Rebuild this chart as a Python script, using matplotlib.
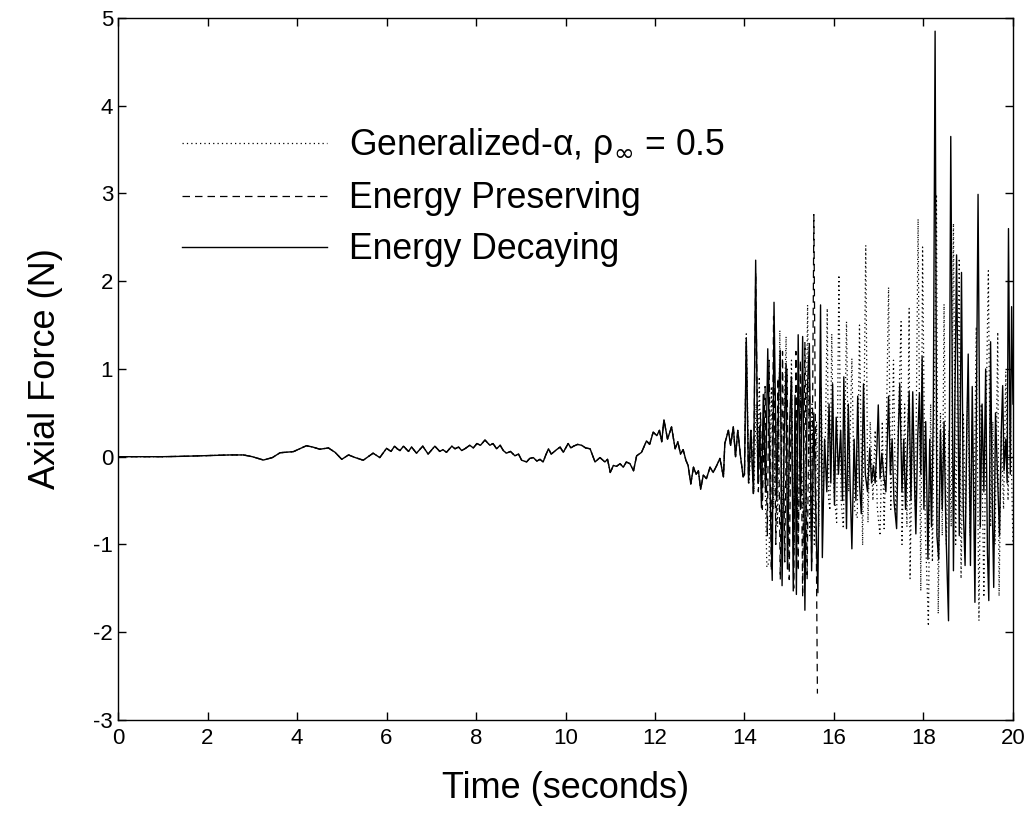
import matplotlib
matplotlib.use('Agg')
import matplotlib.pyplot as plt

plt.rcParams['font.family'] = ['Liberation Sans', 'DejaVu Sans']
plt.rcParams['mathtext.fontset'] = 'dejavusans'
plt.rcParams['axes.unicode_minus'] = False

# shared response before the schemes separate (seconds, N)
t_common = [0.0, 0.5, 1.0, 1.5, 2.0, 2.5, 2.8, 3.0, 3.25, 3.45, 3.62, 3.92, 4.1, 4.21,
            4.35, 4.51, 4.7, 4.85, 5.0, 5.15, 5.3, 5.48, 5.7, 5.85, 6.0, 6.1, 6.18,
            6.24, 6.30, 6.38, 6.49, 6.56, 6.67, 6.81, 6.93, 7.08, 7.19, 7.26, 7.34,
            7.46, 7.53, 7.61, 7.68, 7.75, 7.86, 7.94, 8.02, 8.10, 8.20, 8.31, 8.38,
            8.46, 8.54, 8.61, 8.68, 8.77, 8.87, 8.95, 9.02, 9.13, 9.20, 9.28, 9.36,
            9.43, 9.50, 9.56, 9.62, 9.68, 9.73, 9.80, 9.88, 9.95, 10.06, 10.12, 10.18,
            10.27, 10.36, 10.45, 10.55, 10.66, 10.77, 10.88, 10.94, 11.00, 11.07,
            11.14, 11.22, 11.29, 11.36, 11.44, 11.52, 11.59, 11.70, 11.81, 11.88,
            11.96, 12.04, 12.10, 12.15, 12.20, 12.28, 12.37, 12.45, 12.51, 12.57,
            12.63, 12.69, 12.74, 12.80, 12.86, 12.92, 12.97, 13.02, 13.08, 13.15,
            13.23, 13.30, 13.38, 13.45, 13.53, 13.56, 13.64, 13.69, 13.75, 13.80,
            13.85, 13.91, 13.97]
f_common = [0.0, 0.0, 0.0, 0.005, 0.012, 0.02, 0.02, 0.0, -0.038, -0.01, 0.045, 0.058, 0.10, 0.125,
            0.11, 0.085, 0.10, 0.05, -0.03, 0.02, -0.01, -0.04, 0.04, -0.01, 0.095, 0.06, 0.12,
            0.09, 0.07, 0.12, 0.06, 0.11, 0.04, 0.12, 0.03, 0.12, 0.06, 0.08, 0.05,
            0.12, 0.09, 0.11, 0.07, 0.09, 0.13, 0.10, 0.15, 0.13, 0.19, 0.13, 0.15,
            0.09, 0.13, 0.07, 0.04, 0.06, 0.01, 0.03, -0.04, -0.06, -0.02, -0.01, -0.05,
            -0.03, -0.06, 0.02, 0.09, 0.03, 0.05, 0.08, 0.11, 0.05, 0.15, 0.10, 0.12,
            0.14, 0.13, 0.10, 0.09, -0.06, -0.01, -0.06, -0.03, -0.18, -0.10,
            -0.11, -0.08, -0.12, -0.06, -0.08, -0.16, 0.01, 0.05, 0.18, 0.14,
            0.28, 0.24, 0.30, 0.17, 0.42, 0.20, 0.34, 0.09, 0.17, 0.03,
            0.08, -0.04, -0.10, -0.31, -0.12, -0.20, -0.16, -0.37, -0.21, -0.25,
            -0.12, -0.18, -0.10, -0.02, -0.23, 0.15, 0.30, 0.13, 0.34, 0.00,
            0.30, 0.01, -0.23]

# Generalized-alpha, rho_inf = 0.5
t_alpha = [14.00, 14.04, 14.10, 14.16, 14.21, 14.26, 14.30, 14.33, 14.38, 14.43, 14.50,
           14.55, 14.60, 14.65, 14.70, 14.74, 14.79, 14.84, 14.88, 14.93, 14.97, 15.01,
           15.05, 15.10, 15.15, 15.20, 15.25, 15.30, 15.35, 15.41, 15.46, 15.51, 15.56,
           15.61, 15.66, 15.71, 15.76, 15.81, 15.85, 15.88, 15.91, 15.95, 16.00, 16.06,
           16.11, 16.16, 16.21, 16.28, 16.33, 16.40, 16.46, 16.52, 16.57, 16.64, 16.71,
           16.76, 16.81, 16.87, 16.92, 16.97, 17.03, 17.08, 17.12, 17.17, 17.22, 17.27,
           17.33, 17.38, 17.44, 17.50, 17.52, 17.58, 17.63, 17.68, 17.70, 17.76, 17.82,
           17.88, 17.94, 17.98, 18.04, 18.11, 18.16, 18.20, 18.25, 18.29, 18.33, 18.38,
           18.42, 18.46, 18.51, 18.57, 18.62, 18.67, 18.72, 18.76, 18.80, 18.84, 18.89,
           18.94, 18.99, 19.04, 19.09, 19.13, 19.18, 19.24, 19.29, 19.35, 19.40, 19.45,
           19.50, 19.55, 19.60, 19.66, 19.69, 19.74, 19.79, 19.84, 19.89, 19.94, 20.00]
f_alpha = [-0.20, 1.40, -0.30, 0.20, -0.40, 0.60, -0.20, 0.91, -0.50, 0.50, -1.26,
           -1.20, 0.80, -0.60, 0.40, -0.80, 1.44, -0.90, 0.30, 1.37, -1.20, 0.20,
           1.10, -1.10, 0.50, -1.00, 0.80, -0.60, -1.20, 1.73, -0.90, 0.60, -1.00,
           0.40, -0.80, 0.80, -0.40, 0.30, 1.69, -0.50, -0.61, 1.40, -0.40, -0.75,
           2.07, -0.50, -0.82, 1.54, -0.40, 1.12, -0.60, -0.70, 1.50, -1.01, 2.41,
           -0.75, 0.40, -0.50, 0.30, -0.60, -0.90, 0.40, -0.82, 0.30, 1.93, -0.60,
           1.10, -0.70, 0.40, 1.54, -1.00, 0.60, -0.80, 1.69, -1.39, 0.50, -0.60,
           2.71, -1.53, 2.39, -0.80, -1.93, 0.60, -1.20, 1.00, 2.99, -1.79, 0.50,
           -0.90, 1.74, -1.00, 0.30, -0.80, 2.66, -1.00, 0.80, 2.26, -1.39, 0.50,
           -0.70, 0.80, -0.90, 0.40, -0.60, 1.48, -1.87, 0.60, -1.60, 0.50, 2.12,
           -0.80, 0.40, -1.00, 1.42, -1.59, 0.30, -0.60, 0.97, -0.50, 0.60, -1.00]

# Energy preserving (stops after the blow-up near 15.6 s)
t_pres = [14.00, 14.04, 14.09, 14.15, 14.20, 14.25, 14.31, 14.36, 14.40, 14.46, 14.51,
          14.55, 14.60, 14.65, 14.70, 14.75, 14.80, 14.85, 14.90, 14.95, 15.00, 15.05,
          15.10, 15.15, 15.20, 15.25, 15.30, 15.35, 15.40, 15.45, 15.50, 15.55, 15.63]
f_pres = [-0.20, 1.30, -0.30, 0.30, -0.45, 2.10, -0.40, 0.50, -0.60, 0.80, -0.90,
          1.10, -1.30, 1.60, -1.00, 0.90, -1.40, 1.20, -1.20, 1.00, -1.40, 0.90,
          -1.50, 1.20, -1.30, 1.10, -1.60, 1.30, -1.40, 1.00, -1.20, 2.76, -2.70]

# Energy decaying
t_decay = [14.00, 14.04, 14.09, 14.14, 14.20, 14.25, 14.30, 14.34, 14.38, 14.42, 14.47,
           14.52, 14.58, 14.62, 14.66, 14.72, 14.76, 14.80, 14.84, 14.89, 14.93, 14.96,
           15.01, 15.05, 15.09, 15.13, 15.16, 15.20, 15.25, 15.30, 15.35, 15.40, 15.45,
           15.50, 15.55, 15.60, 15.64, 15.70, 15.74, 15.79, 15.84, 15.89, 15.93, 15.97,
           16.01, 16.05, 16.10, 16.15, 16.19, 16.22, 16.28, 16.32, 16.36, 16.40, 16.45,
           16.49, 16.53, 16.57, 16.61, 16.66, 16.70, 16.75, 16.80, 16.84, 16.88, 16.92,
           16.96, 16.99, 17.03, 17.07, 17.11, 17.16, 17.22, 17.26, 17.30, 17.34, 17.40,
           17.44, 17.47, 17.52, 17.56, 17.60, 17.64, 17.68, 17.72, 17.76, 17.80, 17.83,
           17.87, 17.91, 17.94, 17.97, 18.01, 18.05, 18.10, 18.14, 18.18, 18.22, 18.26,
           18.30, 18.34, 18.38, 18.42, 18.46, 18.50, 18.56, 18.61, 18.67, 18.70, 18.74,
           18.80, 18.85, 18.89, 18.93, 18.97, 19.00, 19.05, 19.09, 19.15, 19.22, 19.27,
           19.31, 19.35, 19.39, 19.43, 19.46, 19.50, 19.54, 19.57, 19.61, 19.66, 19.70,
           19.74, 19.77, 19.80, 19.84, 19.87, 19.90, 19.94, 19.97, 20.00]
f_decay = [-0.20, 1.35, -0.27, 0.30, -0.42, 2.24, -0.30, 0.35, -0.58, 0.71, -0.40,
           1.23, -0.60, -1.41, 1.76, -0.50, 0.60, 1.21, -1.47, 0.30, 1.06, -1.28,
           0.40, 0.91, -1.53, 0.70, -1.57, 1.39, -0.60, 1.37, -1.75, 0.70, 1.29,
           -1.30, 0.50, -0.80, -1.55, 1.73, -1.15, 0.20, -0.40, 0.60, -0.30, 0.83,
           -0.55, 0.45, -0.20, 0.30, -0.50, 0.91, -0.82, 0.60, -0.30, -1.05, 0.20,
           -0.50, 0.69, -0.30, -0.65, 0.83, -0.20, -0.40, 0.10, -0.30, -0.10, -0.30,
           0.10, 0.59, -0.25, 0.04, -0.20, -0.40, 0.69, -0.20, 0.20, -0.50, -0.82,
           0.30, 0.83, -0.40, 0.20, -0.60, 0.10, 0.74, -0.50, 0.74, -0.30, -0.88,
           0.20, 0.73, -0.20, 1.14, -0.60, 0.40, -1.17, 0.20, -0.80, 0.50, 4.85,
           -0.90, -1.17, 0.30, -0.60, 0.40, -0.80, -1.87, 3.65, -1.30, 0.50, 2.30,
           -0.90, 2.10, -0.60, -1.24, 0.40, 1.17, -1.24, 0.80, -1.66, 2.99, -0.80,
           0.60, -0.40, 1.00, -1.10, -1.64, 1.31, -0.60, -1.49, 0.50, -0.30, -0.90,
           0.30, 0.81, -0.16, 0.20, -0.30, 2.60, -0.20, 1.71, 0.60]

fig = plt.figure(figsize=(10.31, 8.19), dpi=100)
ax = fig.add_axes([0.1145, 0.121, 0.868, 0.857])

ax.plot(t_common + t_alpha, f_common + f_alpha, color='black', lw=0.9,
        linestyle=(0, (1, 2.5)), label=r'Generalized-α, ρ$_{\infty}$ = 0.5')
ax.plot(t_common + t_pres, f_common + f_pres, color='black', lw=0.9,
        linestyle=(0, (6, 4)), label='Energy Preserving')
ax.plot(t_common + t_decay, f_common + f_decay, color='black', lw=1.0,
        linestyle='-', label='Energy Decaying')

ax.set_xlim(0, 20)
ax.set_ylim(-3, 5)
ax.set_xticks(range(0, 21, 2))
ax.set_yticks(range(-3, 6))
ax.tick_params(direction='in', top=True, right=True, length=6, width=1, labelsize=16)
ax.tick_params(axis='x', pad=6)
for s in ax.spines.values():
    s.set_linewidth(1.0)

ax.set_xlabel('Time (seconds)', fontsize=26, labelpad=16)
ax.set_ylabel('Axial Force (N)', fontsize=26, labelpad=22)

ax.legend(loc='upper left', bbox_to_anchor=(0.0514, 0.871), frameon=False,
          fontsize=25.6, handlelength=4.07, handletextpad=0.62, labelspacing=0.45,
          borderpad=0)

fig.savefig('out.png', dpi=100)
